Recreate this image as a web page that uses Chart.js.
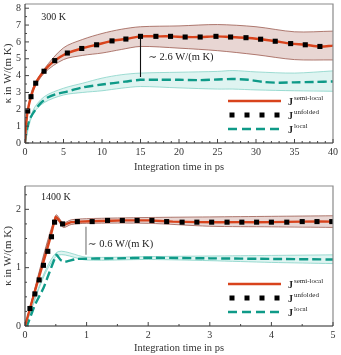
<!DOCTYPE html>
<html>
<head>
<meta charset="utf-8">
<script src="https://cdn.jsdelivr.net/npm/chart.js@4"></script>
<style>
  body { margin: 0; background: #fff; }
  canvas { display: block; }
</style>
</head>
<body>
<canvas id="chart300" width="341" height="175"></canvas>
<canvas id="chart1400" width="341" height="180"></canvas>
<script>
// ---- 300 K data ----
const semiTime300 = [0, 0.1, 0.35, 0.78, 1.39, 2.0, 2.47, 3.0, 3.86, 5.0, 5.5, 7.37, 9.3, 11.3, 13.1, 15.0, 17.0, 18.9, 20.8, 22.75, 24.8, 26.7, 28.7, 30.6, 32.5, 34.5, 36.4, 38.3, 40];
const semiVal300 = [0, 0.9, 1.9, 2.75, 3.55, 4.0, 4.26, 4.55, 4.89, 5.22, 5.34, 5.61, 5.83, 6.06, 6.17, 6.33, 6.33, 6.33, 6.29, 6.29, 6.33, 6.29, 6.25, 6.16, 6.04, 5.9, 5.83, 5.73, 5.78];
const unfTime300 = [0.35, 0.78, 1.39, 2.47, 3.86, 5.5, 7.37, 9.3, 11.3, 13.1, 15.0, 17.0, 18.9, 20.8, 22.75, 24.8, 26.7, 28.7, 30.6, 32.5, 34.5, 36.4, 38.3];
const unfVal300 = [1.9, 2.75, 3.55, 4.26, 4.89, 5.34, 5.61, 5.83, 6.06, 6.17, 6.33, 6.33, 6.33, 6.29, 6.29, 6.33, 6.29, 6.25, 6.16, 6.04, 5.9, 5.83, 5.73];
const semiBandTime300 = [0, 0.35, 1, 2.5, 5, 7.5, 10, 12.5, 15, 20, 25, 30, 35, 40];
const semiBandHi300 = [0, 1.95, 3.25, 4.4, 5.65, 6.15, 6.5, 6.75, 6.9, 6.95, 7.03, 6.9, 6.6, 6.64];
const semiBandLo300 = [0, 1.85, 3.05, 4.15, 4.95, 5.2, 5.34, 5.55, 5.73, 5.63, 5.48, 5.24, 4.95, 4.93];
const localTime300 = [0, 0.15, 0.35, 0.7, 1.3, 2, 3, 4, 5.2, 7.4, 10, 13, 15, 17.5, 20, 22.5, 25, 27, 29, 31, 33, 35, 37.5, 40];
const localVal300 = [0, 0.6, 1.05, 1.5, 1.94, 2.35, 2.71, 2.9, 3.02, 3.29, 3.47, 3.64, 3.75, 3.75, 3.75, 3.73, 3.77, 3.8, 3.75, 3.62, 3.58, 3.6, 3.62, 3.65];
const localBandTime300 = [0, 1, 2.5, 5, 7.5, 10, 12.5, 15, 20, 25, 27, 30, 35, 40];
const localBandHi300 = [0, 1.9, 2.75, 3.25, 3.55, 3.85, 4.05, 4.15, 4.2, 4.25, 4.3, 4.22, 4.15, 4.28];
const localBandLo300 = [0, 1.7, 2.4, 2.85, 3.0, 3.1, 3.25, 3.35, 3.27, 3.2, 3.2, 3.15, 3.1, 3.07];
const gapTime300 = [15, 15];
const gapVal300 = [6.33, 3.92];

// ---- 1400 K data ----
const semiTime1400 = [0, 0.1, 0.2, 0.3, 0.4, 0.5, 0.62, 0.75, 0.9, 1.2, 1.6, 2.0, 2.4, 2.8, 3.5, 4.0, 4.5, 5];
const semiVal1400 = [0, 0.37, 0.74, 1.1, 1.47, 1.87, 1.73, 1.78, 1.79, 1.8, 1.81, 1.81, 1.79, 1.78, 1.78, 1.78, 1.79, 1.79];
const unfTime1400 = [0.08, 0.16, 0.23, 0.30, 0.37, 0.43, 0.48, 0.61, 0.85, 1.09, 1.34, 1.58, 1.82, 2.06, 2.3, 2.55, 2.79, 3.03, 3.28, 3.52, 3.76, 4.0, 4.25, 4.5, 4.74, 4.98];
const unfVal1400 = [0.30, 0.55, 0.79, 1.04, 1.28, 1.53, 1.78, 1.75, 1.79, 1.79, 1.81, 1.81, 1.81, 1.81, 1.79, 1.78, 1.78, 1.78, 1.78, 1.78, 1.78, 1.78, 1.78, 1.79, 1.79, 1.79];
const semiBandTime1400 = [0, 0.5, 0.62, 0.75, 1, 2, 3, 4, 5];
const semiBandHi1400 = [0, 1.9, 1.77, 1.82, 1.84, 1.86, 1.87, 1.88, 1.89];
const semiBandLo1400 = [0, 1.84, 1.69, 1.74, 1.76, 1.76, 1.71, 1.7, 1.69];
const localTime1400 = [0, 0.03, 0.16, 0.3, 0.4, 0.51, 0.58, 0.65, 0.84, 1.5, 2, 3, 4, 5];
const localVal1400 = [0, 0, 0.36, 0.65, 0.93, 1.22, 1.13, 1.1, 1.15, 1.16, 1.17, 1.16, 1.15, 1.14];
const localBandTime1400 = [0, 0.5, 1, 2, 3, 4, 5];
const localBandHi1400 = [0, 1.25, 1.18, 1.19, 1.2, 1.21, 1.22];
const localBandLo1400 = [0, 1.19, 1.13, 1.14, 1.12, 1.09, 1.07];
const gapTime1400 = [0.99, 0.99];
const gapVal1400 = [1.70, 1.22];

const RED = '#d8431c';
const TEAL = '#0f9a88';
const SERIF = "'Liberation Serif', 'DejaVu Serif', serif";

function pts(xs, ys) {
    return xs.map((x, i) => ({ x: x, y: ys[i] }));
}

// frame, inward ticks, labels and legend
const decorPlugin = {
    id: 'decor',
    afterDatasetsDraw(chart, args, opts) {
        const ctx = chart.ctx;
        const a = chart.chartArea;
        const xs = chart.scales.x, ys = chart.scales.y;
        ctx.save();
        // top & right frame
        ctx.strokeStyle = '#8a8a8a';
        ctx.lineWidth = 1.2;
        ctx.beginPath();
        ctx.moveTo(a.left, a.top); ctx.lineTo(a.right, a.top); ctx.lineTo(a.right, a.bottom);
        ctx.stroke();
        // left & bottom axes
        ctx.strokeStyle = '#222';
        ctx.lineWidth = 1;
        ctx.beginPath();
        ctx.moveTo(a.left, a.top); ctx.lineTo(a.left, a.bottom); ctx.lineTo(a.right, a.bottom);
        ctx.stroke();
        // ticks
        ctx.strokeStyle = '#444';
        ctx.beginPath();
        for (let v = xs.min; v <= xs.max + 1e-9; v += opts.xMinor) {
            const px = xs.getPixelForValue(v);
            const major = Math.abs(v / opts.xMajor - Math.round(v / opts.xMajor)) < 1e-6;
            ctx.moveTo(px, a.bottom); ctx.lineTo(px, a.bottom - (major ? 4 : 2));
        }
        for (let v = ys.min; v <= ys.max + 1e-9; v += opts.yMinor) {
            const py = ys.getPixelForValue(v);
            const major = Math.abs(v / opts.yMajor - Math.round(v / opts.yMajor)) < 1e-6;
            ctx.moveTo(a.left, py); ctx.lineTo(a.left + (major ? 4 : 2), py);
        }
        ctx.stroke();
        // temperature label
        ctx.fillStyle = '#222';
        ctx.font = '10px ' + SERIF;
        ctx.textBaseline = 'middle';
        ctx.textAlign = 'left';
        ctx.fillText(opts.title, xs.getPixelForValue(opts.titleAt[0]), ys.getPixelForValue(opts.titleAt[1]));
        // gap label
        ctx.font = '10.5px ' + SERIF;
        ctx.fillText(opts.gapText, xs.getPixelForValue(opts.gapAt[0]), ys.getPixelForValue(opts.gapAt[1]));
        // legend
        const x0 = 228, x1 = 281;
        const rows = [a.bottom - 42, a.bottom - 28, a.bottom - 14];
        ctx.lineWidth = 2.4;
        ctx.strokeStyle = RED;
        ctx.beginPath(); ctx.moveTo(x0, rows[0]); ctx.lineTo(x1, rows[0]); ctx.stroke();
        ctx.fillStyle = '#000';
        [232, 247, 262, 277].forEach(px => ctx.fillRect(px - 2.5, rows[1] - 2.5, 5, 5));
        ctx.strokeStyle = TEAL;
        ctx.setLineDash([9, 5]);
        ctx.beginPath(); ctx.moveTo(x0, rows[2]); ctx.lineTo(x1 + 2, rows[2]); ctx.stroke();
        ctx.setLineDash([]);
        const sup = ['semi-local', 'unfolded', 'local'];
        rows.forEach((ry, i) => {
            ctx.fillStyle = '#222';
            ctx.font = 'bold 10px ' + SERIF;
            ctx.textAlign = 'left';
            ctx.fillText('J', 288, ry + 1);
            ctx.font = '7px ' + SERIF;
            ctx.fillText(sup[i], 294, ry - 3);
        });
        ctx.restore();
    }
};

function makeChart(id, cfg) {
    return new Chart(document.getElementById(id), {
        type: 'line',
        data: {
            datasets: [
                {
                    data: pts(cfg.bandTime, cfg.bandHi),
                    borderColor: '#9c5a4f', borderWidth: 0.8, pointRadius: 0,
                    backgroundColor: 'rgba(165,95,85,0.26)',
                    fill: '+1', tension: 0.3, order: 10
                },
                {
                    data: pts(cfg.bandTime, cfg.bandLo),
                    borderColor: '#9c5a4f', borderWidth: 0.8, pointRadius: 0,
                    fill: false, tension: 0.3, order: 10
                },
                {
                    data: pts(cfg.lbandTime, cfg.lbandHi),
                    borderColor: '#86d3c8', borderWidth: 0.8, pointRadius: 0,
                    backgroundColor: 'rgba(110,205,190,0.22)',
                    fill: '+1', tension: 0.3, order: 9
                },
                {
                    data: pts(cfg.lbandTime, cfg.lbandLo),
                    borderColor: '#86d3c8', borderWidth: 0.8, pointRadius: 0,
                    fill: false, tension: 0.3, order: 9
                },
                {
                    data: pts(cfg.localTime, cfg.localVal),
                    borderColor: TEAL, borderWidth: 2.4, borderDash: [9, 4],
                    pointRadius: 0, fill: false, tension: cfg.tension, order: 5
                },
                {
                    data: pts(cfg.semiTime, cfg.semiVal),
                    borderColor: RED, borderWidth: 2.4,
                    pointRadius: 0, fill: false, tension: cfg.tension, order: 4
                },
                {
                    data: pts(cfg.gapTime, cfg.gapVal),
                    borderColor: cfg.gapColor, borderWidth: 1.1,
                    pointRadius: 0, fill: false, order: 3
                },
                {
                    data: pts(cfg.unfTime, cfg.unfVal),
                    showLine: false, pointStyle: 'rect', pointRadius: 3.6,
                    pointBackgroundColor: '#000', pointBorderWidth: 0, order: 1
                }
            ]
        },
        options: {
            responsive: false,
            animation: false,
            layout: { padding: { top: cfg.padTop, right: 8, left: 0, bottom: 0 } },
            plugins: {
                legend: { display: false },
                tooltip: { enabled: false },
                decor: cfg.decor
            },
            scales: {
                x: {
                    type: 'linear', min: 0, max: cfg.xMax,
                    grid: { display: false, drawTicks: false }, border: { display: false },
                    ticks: { stepSize: cfg.xStep, padding: 3, color: '#333', font: { family: SERIF, size: 10 } },
                    title: { display: true, text: 'Integration time in ps', color: '#333', padding: { top: 0, bottom: cfg.xTitlePad }, font: { family: SERIF, size: 10.5 } },
                    afterFit(s) { s.height = cfg.xAxisH; s.paddingLeft = 0; s.paddingRight = 0; }
                },
                y: {
                    min: 0, max: cfg.yMax,
                    grid: { display: false, drawTicks: false }, border: { display: false },
                    ticks: { stepSize: 1, includeBounds: false, padding: 4, color: '#333', font: { family: SERIF, size: 10 } },
                    title: { display: true, text: 'κ in W/(m K)', color: '#333', padding: { top: 2, bottom: 0 }, font: { family: SERIF, size: 11 } },
                    afterFit(s) { s.width = 25; s.paddingTop = 0; s.paddingBottom = 0; }
                }
            }
        },
        plugins: [decorPlugin]
    });
}

makeChart('chart300', {
    semiTime: semiTime300, semiVal: semiVal300,
    unfTime: unfTime300, unfVal: unfVal300,
    bandTime: semiBandTime300, bandHi: semiBandHi300, bandLo: semiBandLo300,
    localTime: localTime300, localVal: localVal300,
    lbandTime: localBandTime300, lbandHi: localBandHi300, lbandLo: localBandLo300,
    gapTime: gapTime300, gapVal: gapVal300, gapColor: '#111',
    tension: 0.3, xMax: 40, xStep: 5, yMax: 8.25,
    padTop: 2, xAxisH: 32, xTitlePad: 1,
    decor: { xMinor: 1, xMajor: 5, yMinor: 0.5, yMajor: 1, title: '300 K', titleAt: [2.1, 7.45], gapText: '∼ 2.6 W/(m K)', gapAt: [16.0, 5.08] }
});

makeChart('chart1400', {
    semiTime: semiTime1400, semiVal: semiVal1400,
    unfTime: unfTime1400, unfVal: unfVal1400,
    bandTime: semiBandTime1400, bandHi: semiBandHi1400, bandLo: semiBandLo1400,
    localTime: localTime1400, localVal: localVal1400,
    lbandTime: localBandTime1400, lbandHi: localBandHi1400, lbandLo: localBandLo1400,
    gapTime: gapTime1400, gapVal: gapVal1400, gapColor: '#777',
    tension: 0.1, xMax: 5, xStep: 1, yMax: 2.4,
    padTop: 11, xAxisH: 29, xTitlePad: 0,
    decor: { xMinor: 0.5, xMajor: 1, yMinor: 0.25, yMajor: 1, title: '1400 K', titleAt: [0.26, 2.21], gapText: '∼ 0.6 W/(m K)', gapAt: [1.02, 1.41] }
});
</script>
</body>
</html>
